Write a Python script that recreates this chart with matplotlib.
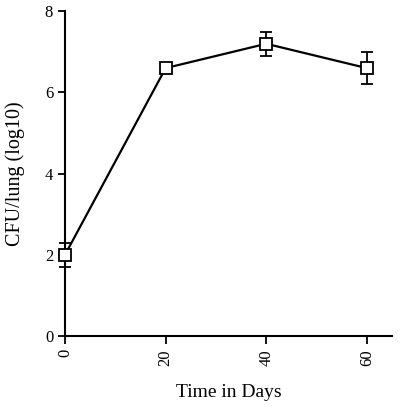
import matplotlib.pyplot as plt

# Data
days = [0, 20, 40, 60]
cfu = [2.0, 6.6, 7.2, 6.6]
cfu_err = [0.3, 0.05, 0.3, 0.4]

plt.rcParams['font.family'] = 'Liberation Serif'

fig = plt.figure(figsize=(4, 4.11), dpi=100)
ax = fig.add_axes([0.1625, 0.1825, 0.8175, 0.79])

ax.errorbar(days, cfu, yerr=cfu_err, color='black', linewidth=1.6,
            marker='s', markersize=8, markerfacecolor='white',
            markeredgecolor='black', markeredgewidth=1.3,
            ecolor='black', elinewidth=1.3, capsize=4, capthick=1.3,
            clip_on=False, zorder=3)

ax.set_xlim(0, 65)
ax.set_ylim(0, 8)
ax.set_xticks(days)
ax.set_yticks([0, 2, 4, 6, 8])
ax.tick_params(axis='x', labelrotation=90, length=6, width=1.3, labelsize=12)
ax.tick_params(axis='y', length=5, width=1.3, labelsize=12)

for side in ['top', 'right']:
    ax.spines[side].set_visible(False)
for side in ['left', 'bottom']:
    ax.spines[side].set_linewidth(1.5)

ax.set_xlabel('Time in Days', fontsize=14, labelpad=13)
ax.set_ylabel('CFU/lung (log10)', fontsize=14.5, labelpad=14)

plt.savefig('out.png', dpi=100)
plt.close()
